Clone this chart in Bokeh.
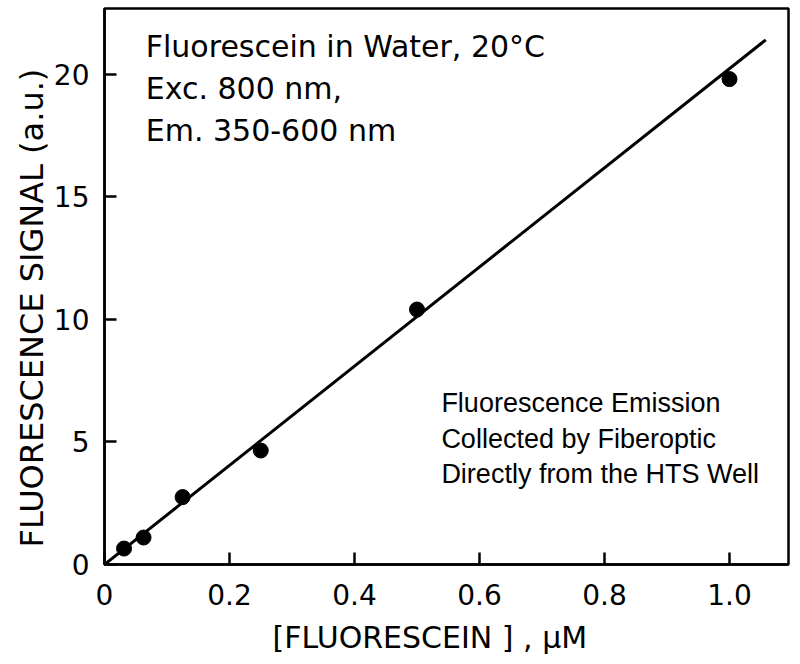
from bokeh.plotting import figure
from bokeh.models import Label, FixedTicker, Title
from bokeh.embed import file_html
from bokeh.resources import INLINE

# data
conc = [0.03125, 0.0625, 0.125, 0.25, 0.5, 1.0]
signal = [0.65, 1.1, 2.75, 4.65, 10.4, 19.8]
fit_x = [0.0, 1.058]
fit_y = [0.0, 21.4]
x_ticks = [0, 0.2, 0.4, 0.6, 0.8, 1.0]
x_tick_labels = ["0", "0.2", "0.4", "0.6", "0.8", "1.0"]
y_ticks = [0, 5, 10, 15, 20]
y_tick_labels = ["0", "5", "10", "15", "20"]
x_title = "[FLUORESCEIN ] , μM"
y_title = "FLUORESCENCE SIGNAL  (a.u.)"
note1 = ["Fluorescein in Water, 20°C", "Exc. 800 nm,", "Em. 350-600 nm"]
note2 = ["Fluorescence Emission", "Collected by Fiberoptic", "Directly from the HTS Well"]

TICK_FONT = "DejaVu Sans"

p = figure(width=796, height=664, x_range=(0, 1.0944), y_range=(0, 22.68),
           output_backend="svg", toolbar_location=None,
           min_border_left=104, min_border_right=8, min_border_top=8, min_border_bottom=98)
p.background_fill_color = "white"
p.border_fill_color = "white"
p.grid.visible = False
p.outline_line_color = "black"
p.outline_line_width = 2.5

for ax in (p.xaxis[0], p.yaxis[0]):
    ax.axis_line_width = 2.5
    ax.axis_line_color = "black"
    ax.major_tick_in = 12
    ax.major_tick_out = 0
    ax.major_tick_line_width = 2.5
    ax.major_tick_line_color = "black"
    ax.minor_tick_line_color = None
    ax.major_label_text_font = TICK_FONT
    ax.major_label_text_font_size = "28px"
    ax.major_label_text_color = "black"

p.xaxis.ticker = FixedTicker(ticks=x_ticks)
p.xaxis.major_label_overrides = {t: l for t, l in zip(x_ticks, x_tick_labels)}
p.yaxis.ticker = FixedTicker(ticks=y_ticks)
p.yaxis.major_label_overrides = {t: l for t, l in zip(y_ticks, y_tick_labels)}
p.xaxis.major_label_standoff = 19
p.yaxis.major_label_standoff = 15

# axis titles (offset from the frame as in the original)
p.add_layout(Title(text=x_title, align="left", offset=168, text_font=TICK_FONT,
                   text_font_size="30px", text_font_style="normal", text_color="black",
                   standoff=20), "below")
p.add_layout(Title(text=y_title, align="left", offset=17, text_font=TICK_FONT,
                   text_font_size="32px", text_font_style="normal", text_color="black",
                   standoff=0), "left")

p.line(fit_x, fit_y, line_color="black", line_width=3)
p.scatter(conc, signal, size=15, fill_color="black", line_color="black")

ys1 = [21.14, 19.43, 17.72]
for t, y in zip(note1, ys1):
    p.add_layout(Label(x=0.066, y=y, text=t, text_font=TICK_FONT, text_font_size="30px",
                       text_baseline="middle", text_color="black"))

ys2 = [6.59, 5.12, 3.7]
for t, y in zip(note2, ys2):
    p.add_layout(Label(x=0.539, y=y, text=t, text_font="Liberation Sans", text_font_size="27px",
                       text_baseline="middle", text_color="black"))

open("out.html", "w").write(file_html(p, INLINE))
